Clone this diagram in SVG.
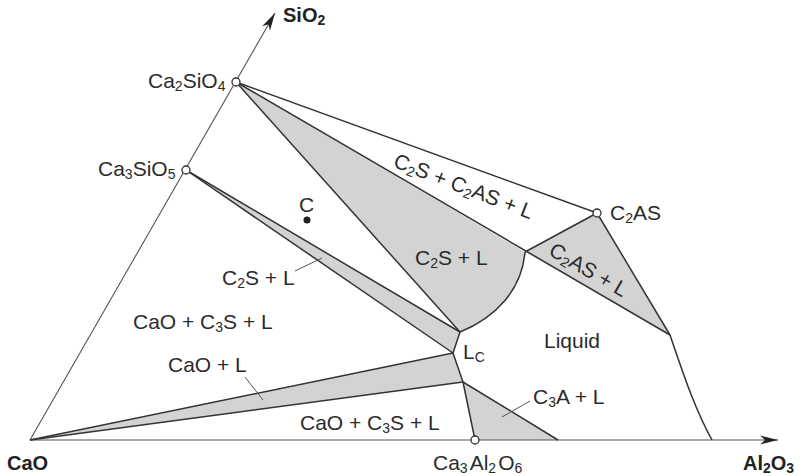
<svg xmlns="http://www.w3.org/2000/svg" width="800" height="476" viewBox="0 0 800 476">
<defs>
<style>
.t{font-family:"Liberation Sans",Arial,Helvetica,sans-serif;font-size:21px;fill:#2b2b2b}
.b{font-weight:bold;font-size:20px;fill:#222}
.s{font-size:14px}
.region{fill:#d3d3d3;stroke:none}
.bd{fill:none;stroke:#333;stroke-width:1.5;stroke-linejoin:round}
.ax{fill:none;stroke:#555;stroke-width:1.1}
.pt{fill:#fff;stroke:#333;stroke-width:1.3}
.ld{stroke:#555;stroke-width:1}
</style>
<marker id="arrow" viewBox="-20 -6 22 12" refX="0" refY="0" markerWidth="22" markerHeight="12" markerUnits="userSpaceOnUse" orient="auto"><path d="M0,0 L-18,-4.5 L-13,0 L-18,4.5 Z" fill="#222"/></marker>
</defs>
<rect width="800" height="476" fill="#fff"/>
<g id="regions">
<path class="region" d="M236,82 L525,252 C522,290 495,318 460,332 Z"/>
<path class="region" d="M525,252 L597,213 L670,335 Z"/>
<path class="region" d="M186,170 L460,332 L453,353 Z"/>
<path class="region" d="M30,440 L453,353 L463,382 Z"/>
<path class="region" d="M463,382 L475,440 L558,440 Z"/>
</g>
<g id="axes">
<line class="ax" x1="30" y1="440" x2="778" y2="440" marker-end="url(#arrow)"/>
<line class="ax" x1="30" y1="440" x2="275" y2="13" marker-end="url(#arrow)"/>
</g>
<g id="connectors">
<path class="bd" d="M236,82 L597,213 L670,335"/>
<path class="bd" d="M236,82 L670,335"/>
<path class="bd" d="M597,213 L525,252"/>
<path class="bd" d="M236,82 L460,332"/>
<path class="bd" d="M525,252 C522,290 495,318 460,332"/>
<path class="bd" d="M186,170 L460,332"/>
<path class="bd" d="M186,170 L453,353"/>
<path class="bd" d="M460,332 L453,353 L463,382 L475,440"/>
<path class="bd" d="M30,440 L453,353"/>
<path class="bd" d="M30,440 L463,382"/>
<path class="bd" d="M463,382 L558,440"/>
<path class="bd" d="M670,335 C682,370 695,410 712,440"/>
<line class="ld" x1="295" y1="271" x2="322" y2="258"/>
<line class="ld" x1="245" y1="377" x2="263" y2="400"/>
<line class="ld" x1="530" y1="401" x2="502" y2="417"/>
</g>
<g id="points">
<circle id="Ca2SiO4" class="pt" cx="236" cy="82" r="4"/>
<circle id="Ca3SiO5" class="pt" cx="186" cy="170" r="4"/>
<circle id="C2AS" class="pt" cx="597" cy="213" r="4"/>
<circle id="Ca3Al2O6" class="pt" cx="475" cy="440" r="4"/>
<circle id="C" cx="307" cy="220" r="3.5" fill="#222"/>
</g>
<g id="labels">
<text class="t b" x="283" y="22">SiO<tspan class="s" dy="3">2</tspan></text>
<text class="t b" x="7" y="470">CaO</text>
<text class="t b" x="743" y="470">Al<tspan class="s" dy="3">2</tspan><tspan dy="-3">O</tspan><tspan class="s" dy="3">3</tspan></text>
<text class="t" x="148" y="88">Ca<tspan class="s" dy="3">2</tspan><tspan dy="-3">SiO</tspan><tspan class="s" dy="3">4</tspan></text>
<text class="t" x="98" y="176">Ca<tspan class="s" dy="3">3</tspan><tspan dy="-3">SiO</tspan><tspan class="s" dy="3">5</tspan></text>
<text class="t" x="299" y="212">C</text>
<text class="t" x="461" y="193" text-anchor="middle" transform="rotate(21 461 193)">C<tspan class="s" dy="3">2</tspan><tspan dy="-3">S + C</tspan><tspan class="s" dy="3">2</tspan><tspan dy="-3">AS + L</tspan></text>
<text class="t" x="585" y="276" text-anchor="middle" transform="rotate(30 585 276)">C<tspan class="s" dy="3">2</tspan><tspan dy="-3">AS + L</tspan></text>
<text class="t" x="610" y="220">C<tspan class="s" dy="3">2</tspan><tspan dy="-3">AS</tspan></text>
<text class="t" x="415" y="265">C<tspan class="s" dy="3">2</tspan><tspan dy="-3">S + L</tspan></text>
<text class="t" x="222" y="285">C<tspan class="s" dy="3">2</tspan><tspan dy="-3">S + L</tspan></text>
<text class="t" x="133" y="329">CaO + C<tspan class="s" dy="3">3</tspan><tspan dy="-3">S + L</tspan></text>
<text class="t" x="168" y="372">CaO + L</text>
<text class="t" x="300" y="430">CaO + C<tspan class="s" dy="3">3</tspan><tspan dy="-3">S + L</tspan></text>
<text class="t" x="544" y="348">Liquid</text>
<text class="t" x="463" y="359">L<tspan class="s" dy="3">C</tspan></text>
<text class="t" x="533" y="404">C<tspan class="s" dy="3">3</tspan><tspan dy="-3">A + L</tspan></text>
<text class="t" x="433" y="470">Ca<tspan class="s" dy="3">3</tspan><tspan dx="2" dy="-3">Al</tspan><tspan class="s" dy="3">2</tspan><tspan dx="2" dy="-3">O</tspan><tspan class="s" dy="3">6</tspan></text>
</g>
</svg>
